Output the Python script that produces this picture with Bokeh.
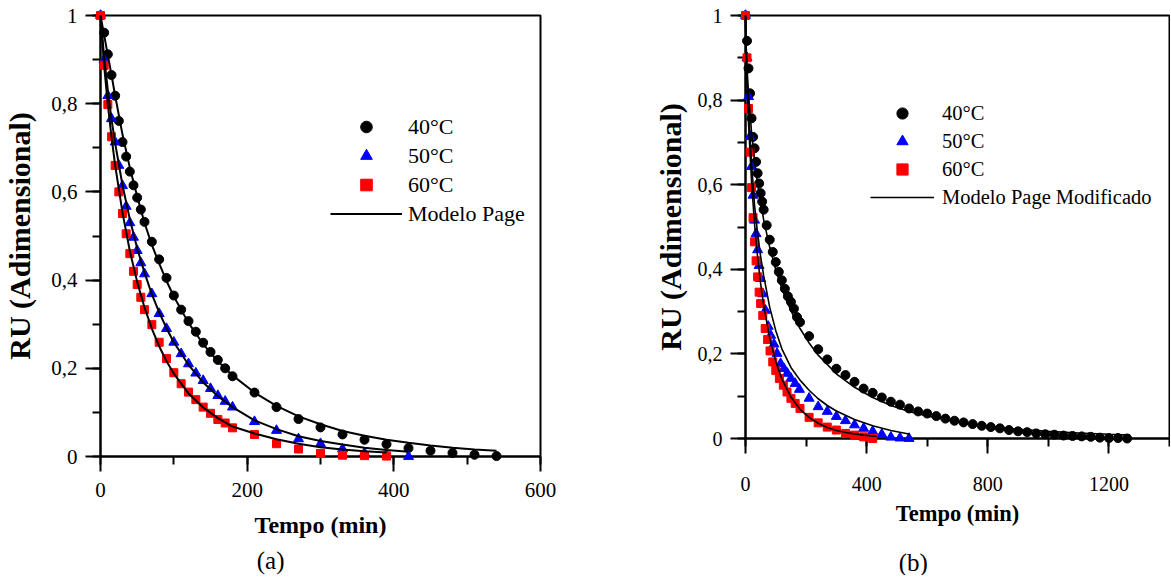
from bokeh.plotting import figure
from bokeh.models import (Range1d, SingleIntervalTicker, CustomJSTickFormatter,
                          Legend, LegendItem)
from bokeh.core.properties import value
from bokeh.layouts import row
from bokeh.embed import file_html
from bokeh.resources import INLINE

FONT = "Liberation Serif"

# ---------------- panel (a) : Modelo Page ----------------
A_T40 = [0, 5, 10, 15, 20, 25, 30, 35, 40, 45, 50, 55, 60, 70, 80, 90, 100, 110, 120, 130,
         140, 150, 160, 170, 180, 210, 240, 270, 300, 330, 360, 390, 420, 450, 480, 510, 540]
A_RU40 = [1.0, 0.961, 0.912, 0.865, 0.818, 0.761, 0.713, 0.680, 0.646, 0.615, 0.587, 0.560,
          0.532, 0.487, 0.447, 0.405, 0.365, 0.333, 0.307, 0.283, 0.258, 0.237, 0.219, 0.200,
          0.182, 0.145, 0.112, 0.085, 0.066, 0.050, 0.038, 0.028, 0.019, 0.013, 0.008, 0.004, 0.001]

A_T50 = [0, 5, 10, 15, 20, 25, 30, 35, 40, 45, 50, 55, 60, 70, 80, 90, 100, 110, 120, 130,
         140, 150, 160, 170, 180, 210, 240, 270, 300, 330, 360, 390, 420]
A_RU50 = [1.0, 0.900, 0.818, 0.766, 0.713, 0.660, 0.614, 0.567, 0.530, 0.497, 0.467, 0.439,
          0.414, 0.369, 0.324, 0.290, 0.259, 0.233, 0.210, 0.189, 0.172, 0.154, 0.138, 0.125,
          0.112, 0.079, 0.059, 0.040, 0.029, 0.017, 0.008, 0.004, 0.0]

A_T60 = [0, 5, 10, 15, 20, 25, 30, 35, 40, 45, 50, 55, 60, 70, 80, 90, 100, 110, 120, 130,
         140, 150, 160, 170, 180, 210, 240, 270, 300, 330, 360, 390]
A_RU60 = [1.0, 0.887, 0.798, 0.725, 0.660, 0.600, 0.551, 0.505, 0.460, 0.420, 0.390, 0.361,
          0.333, 0.299, 0.259, 0.222, 0.190, 0.165, 0.146, 0.129, 0.112, 0.098, 0.084, 0.076,
          0.065, 0.050, 0.029, 0.017, 0.007, 0.003, 0.002, 0.001]

# Page model curves
A_MT40 = [0, 5, 10, 15, 20, 30, 40, 50, 60, 70, 80, 90, 100, 120, 140, 160, 180, 210, 240,
          270, 300, 330, 360, 390, 420, 450, 480, 510, 540]
A_MRU40 = [1.0, 0.955, 0.910, 0.865, 0.818, 0.730, 0.655, 0.590, 0.530, 0.480, 0.438, 0.398,
           0.363, 0.303, 0.255, 0.216, 0.184, 0.145, 0.115, 0.091, 0.073, 0.058, 0.047, 0.038,
           0.031, 0.025, 0.020, 0.016, 0.013]
A_MT50 = [0, 5, 10, 15, 20, 30, 40, 50, 60, 70, 80, 90, 100, 120, 140, 160, 180, 210, 240,
          270, 300, 330, 360, 390, 420]
A_MRU50 = [1.0, 0.905, 0.830, 0.765, 0.710, 0.615, 0.538, 0.472, 0.417, 0.368, 0.327, 0.291,
           0.259, 0.208, 0.168, 0.137, 0.112, 0.082, 0.062, 0.046, 0.035, 0.027, 0.020, 0.015, 0.011]
A_MT60 = [0, 5, 10, 15, 20, 30, 40, 50, 60, 70, 80, 90, 100, 120, 140, 160, 180, 210, 240,
          270, 300, 330, 360, 390]
A_MRU60 = [1.0, 0.885, 0.798, 0.725, 0.660, 0.553, 0.466, 0.396, 0.338, 0.290, 0.250, 0.216,
           0.188, 0.143, 0.111, 0.087, 0.068, 0.052, 0.039, 0.029, 0.021, 0.016, 0.012, 0.009]

# ---------------- panel (b) : Modelo Page Modificado ----------------
B_T40 = [0, 5, 10, 15, 20, 25, 30, 35, 40, 45, 50, 55, 60, 70, 80, 90, 100, 110, 120, 130,
         140, 150, 160, 170, 180, 210, 240, 270, 300, 330, 360, 390, 420, 450, 480, 510, 540,
         570, 600, 630, 660, 690, 720, 750, 780, 810, 840, 870, 900, 930, 960, 990, 1020,
         1050, 1080, 1110, 1140, 1170, 1200, 1230, 1260]
B_RU40 = [1.0, 0.940, 0.875, 0.816, 0.757, 0.713, 0.686, 0.654, 0.627, 0.603, 0.580, 0.560,
          0.541, 0.504, 0.470, 0.441, 0.417, 0.394, 0.374, 0.354, 0.336, 0.323, 0.307, 0.287,
          0.275, 0.242, 0.211, 0.187, 0.165, 0.150, 0.134, 0.118, 0.108, 0.097, 0.087, 0.080,
          0.071, 0.064, 0.059, 0.053, 0.047, 0.042, 0.038, 0.034, 0.030, 0.027, 0.024, 0.020,
          0.017, 0.015, 0.012, 0.010, 0.009, 0.007, 0.006, 0.005, 0.004, 0.002, 0.001, 0.001, 0.0]

B_T50 = [0, 5, 10, 15, 20, 25, 30, 35, 40, 45, 50, 57, 66, 75, 83, 94, 104, 116, 127, 138,
         150, 164, 178, 210, 240, 270, 300, 330, 360, 390, 420, 450, 480, 510, 540]
B_RU50 = [1.0, 0.900, 0.808, 0.714, 0.643, 0.575, 0.516, 0.484, 0.446, 0.409, 0.378, 0.342,
          0.303, 0.265, 0.244, 0.223, 0.201, 0.177, 0.165, 0.154, 0.142, 0.130, 0.116, 0.095,
          0.075, 0.064, 0.052, 0.042, 0.032, 0.024, 0.017, 0.010, 0.003, 0.001, 0.0]

B_T60 = [0, 5, 10, 15, 20, 25, 30, 35, 40, 45, 50, 57, 65, 73, 81, 90, 100, 112, 125, 137,
         150, 164, 180, 210, 240, 270, 300, 330, 360, 390, 420]
B_RU60 = [1.0, 0.900, 0.780, 0.677, 0.593, 0.522, 0.465, 0.420, 0.382, 0.346, 0.319, 0.291,
          0.260, 0.234, 0.207, 0.181, 0.161, 0.142, 0.126, 0.110, 0.095, 0.083, 0.071, 0.050,
          0.037, 0.027, 0.020, 0.012, 0.008, 0.004, 0.0]

# Modified Page model curves
B_MT40 = [0, 1, 2, 5, 10, 20, 30, 40, 60, 80, 100, 120, 150, 180, 210, 240, 300, 360, 420,
          480, 540, 600, 700, 800, 900, 1000, 1100, 1200, 1270]
B_MRU40 = [1.0, 0.955, 0.930, 0.877, 0.814, 0.724, 0.657, 0.602, 0.517, 0.452, 0.399, 0.355,
           0.302, 0.260, 0.226, 0.197, 0.153, 0.121, 0.097, 0.078, 0.064, 0.053, 0.039, 0.029,
           0.022, 0.017, 0.013, 0.010, 0.008]
B_MT50 = [0, 2, 5, 10, 20, 30, 40, 50, 60, 80, 100, 120, 150, 180, 210, 240, 270, 300, 360,
          420, 480, 543]
B_MRU50 = [1.0, 0.930, 0.860, 0.775, 0.650, 0.550, 0.485, 0.430, 0.385, 0.310, 0.255, 0.212,
           0.168, 0.138, 0.114, 0.094, 0.078, 0.065, 0.045, 0.030, 0.019, 0.010]
B_MT60 = [0, 1, 2, 5, 10, 20, 30, 40, 50, 60, 80, 100, 120, 150, 180, 210, 240, 270, 300,
          330, 360, 390, 433]
B_MRU60 = [1.0, 0.950, 0.917, 0.841, 0.745, 0.607, 0.506, 0.428, 0.366, 0.315, 0.237, 0.182,
           0.141, 0.098, 0.069, 0.050, 0.036, 0.026, 0.019, 0.014, 0.011, 0.008, 0.005]

SERIES_LABELS = ["40°C", "50°C", "60°C"]

Y_FMT = CustomJSTickFormatter(code="""
    if (Math.abs(tick - Math.round(tick)) < 1e-9) { return String(Math.round(tick)); }
    return tick.toFixed(1).replace('.', ',');
""")


def panel(cfg):
    p = figure(width=cfg["width"], height=cfg["height"],
               x_range=Range1d(0, cfg["xmax"]), y_range=Range1d(0, 1),
               output_backend="svg", toolbar_location=None, frame_align=False,
               min_border_left=cfg["mb"][0], min_border_right=cfg["mb"][1],
               min_border_top=cfg["mb"][2], min_border_bottom=cfg["mb"][3])
    p.outline_line_color = "black"
    p.outline_line_width = 2
    p.background_fill_color = "white"
    p.border_fill_color = "white"
    p.xgrid.visible = False
    p.ygrid.visible = False

    p.xaxis.ticker = SingleIntervalTicker(interval=cfg["xint"], num_minor_ticks=2)
    p.yaxis.ticker = SingleIntervalTicker(interval=0.2, num_minor_ticks=2)
    p.yaxis.formatter = Y_FMT
    for ax in (p.xaxis[0], p.yaxis[0]):
        ax.axis_line_width = 2
        ax.axis_line_color = "black"
        ax.major_tick_line_width = 2
        ax.minor_tick_line_width = 2
        ax.major_tick_line_color = "black"
        ax.minor_tick_line_color = "black"
        ax.major_tick_in = 0
        ax.minor_tick_in = 0
        ax.major_tick_out = 15
        ax.minor_tick_out = 8
        ax.major_label_text_font = FONT
        ax.major_label_text_font_size = cfg["tick_fs"]
        ax.major_label_text_color = "black"
        ax.axis_label_text_font = FONT
        ax.axis_label_text_font_style = "bold"
        ax.axis_label_text_color = "black"
    p.xaxis.axis_label_text_font_size = cfg["xtitle_fs"]
    p.yaxis.axis_label_text_font_size = cfg["ytitle_fs"]
    p.xaxis.axis_label = "Tempo (min)"
    p.yaxis.axis_label = "RU (Adimensional)"
    p.xaxis.major_label_standoff = cfg["xstand"]
    p.yaxis.major_label_standoff = cfg["ystand"]
    p.xaxis.axis_label_standoff = cfg["xtstand"]
    p.yaxis.axis_label_standoff = cfg["ytstand"]

    ms = cfg["msize"]
    lw = cfg["lw"]
    lvl = "overlay"
    r40 = p.scatter(cfg["t40"], cfg["ru40"], marker="circle", size=ms, color="black", level=lvl)
    r50 = p.scatter(cfg["t50"], cfg["ru50"], marker="triangle", size=ms + 1, color="#0000FF",
                    level=lvl)
    r60 = p.scatter(cfg["t60"], cfg["ru60"], marker="square", size=ms - 1, color="#FF0000",
                    level=lvl)
    l40 = p.line(cfg["mt40"], cfg["mru40"], line_color="black", line_width=lw, level=lvl)
    p.line(cfg["mt50"], cfg["mru50"], line_color="black", line_width=lw, level=lvl)
    p.line(cfg["mt60"], cfg["mru60"], line_color="black", line_width=lw, level=lvl)

    leg = Legend(items=[LegendItem(label=SERIES_LABELS[0], renderers=[r40]),
                        LegendItem(label=SERIES_LABELS[1], renderers=[r50]),
                        LegendItem(label=SERIES_LABELS[2], renderers=[r60]),
                        LegendItem(label=cfg["model"], renderers=[l40])],
                 location=cfg["legloc"], orientation="vertical",
                 glyph_width=cfg["gw"], glyph_height=cfg["gh"], label_standoff=cfg["lstand"],
                 spacing=0, padding=0, margin=0,
                 border_line_color=None, background_fill_alpha=0,
                 label_text_font=FONT, label_text_font_size=cfg["leg_fs"],
                 label_text_color="black")
    p.add_layout(leg, "center")

    # panel caption under the axis title
    p.text(x=[cfg["cap"][0]], y=[cfg["cap"][1]], text=[cfg["caption"]],
           text_font=value(FONT), text_font_size=value("25px"), text_color="black",
           text_align="center", text_baseline="middle", level=lvl)
    return p


pa = panel(dict(width=600, height=575, mb=(99, 60, 15, 119), xmax=600, xint=200,
                tick_fs="21px", xtitle_fs="24px", ytitle_fs="30px", leg_fs="22px",
                xstand=11, ystand=8, xtstand=12, ytstand=12,
                msize=9, lw=2,
                t40=A_T40, ru40=A_RU40, t50=A_T50, ru50=A_RU50, t60=A_T60, ru60=A_RU60,
                mt40=A_MT40, mru40=A_MRU40, mt50=A_MT50, mru50=A_MRU50,
                mt60=A_MT60, mru60=A_MRU60,
                model="Modelo Page", legloc=(230, 228), gw=72, gh=29, lstand=6,
                caption="(a)", cap=(232, -0.236)))

pb = panel(dict(width=570, height=575, mb=(145, 1, 15, 137), xmax=1400, xint=400,
                tick_fs="20px", xtitle_fs="22.5px", ytitle_fs="30px", leg_fs="20.5px",
                xstand=23, ystand=8, xtstand=7, ytstand=8,
                msize=9, lw=1.6,
                t40=B_T40, ru40=B_RU40, t50=B_T50, ru50=B_RU50, t60=B_T60, ru60=B_RU60,
                mt40=B_MT40, mru40=B_MRU40, mt50=B_MT50, mru50=B_MRU50,
                mt60=B_MT60, mru60=B_MRU60,
                model="Modelo Page Modificado", legloc=(125, 227), gw=64, gh=28, lstand=8,
                caption="(b)", cap=(554, -0.292)))

layout = row(pa, pb)
open("out.html", "w").write(file_html(layout, INLINE))
